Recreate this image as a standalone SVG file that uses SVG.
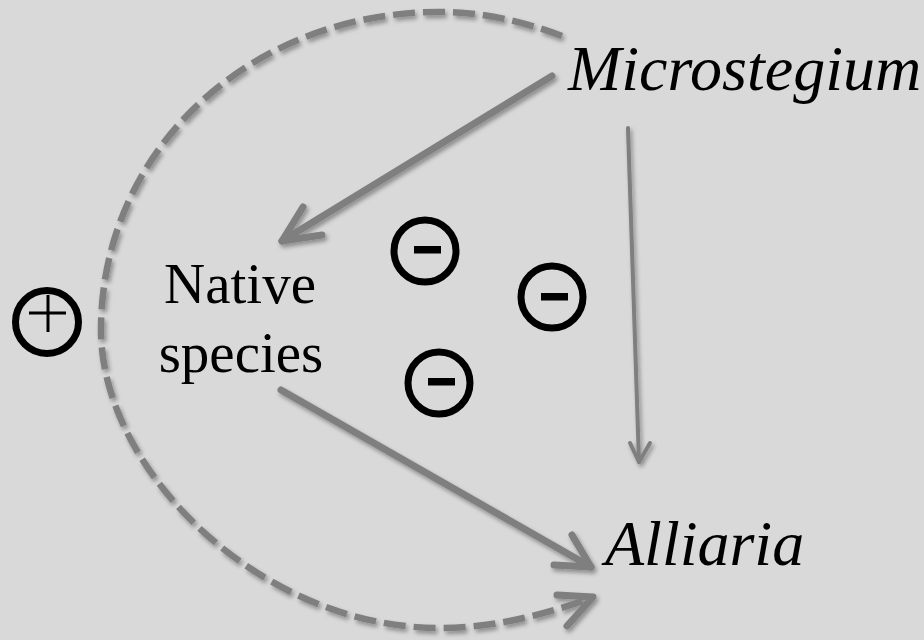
<svg xmlns="http://www.w3.org/2000/svg" width="924" height="640" viewBox="0 0 924 640">
  <defs>
    <filter id="soft" x="-10%" y="-10%" width="120%" height="120%">
      <feDropShadow dx="2" dy="3" stdDeviation="2" flood-color="#000" flood-opacity="0.35"/>
    </filter>
    <style>
      .lbl { font-family: "Liberation Serif", "Times New Roman", serif; fill: #000; }
      .it { font-style: italic; font-size: 64px; }
      .rm { font-size: 57px; }
      .edge { fill: none; stroke: #7f7f7f; stroke-linecap: round; stroke-linejoin: round; }
      .thick { stroke-width: 7; }
      .thin { stroke-width: 4; }
      .dash { stroke-width: 6.5; stroke-dasharray: 22 8; stroke-linecap: butt; }
      .sign { fill: none; stroke: #000; stroke-width: 7; }
    </style>
  </defs>

  <rect width="924" height="640" fill="#d9d9d9"/>

  <!-- connectors -->
  <g id="connectors" filter="url(#soft)">
    <!-- Microstegium to Native species -->
    <path class="edge thick" d="M552 76 L282 241"/>
    <path class="edge thick" d="M303 207 L282 241 L322 235"/>
    <!-- Microstegium to Alliaria -->
    <path class="edge thin" d="M628 128 L639 462"/>
    <path class="edge thin" d="M630 443 L639 462 L650 443"/>
    <!-- Native species to Alliaria -->
    <path class="edge thick" d="M281 390 L591 567"/>
    <path class="edge thick" d="M572 535 L591 567 L554 565"/>
    <!-- Microstegium facilitates Alliaria (dashed loop) -->
    <path class="edge dash" d="M562 36 C520 20 480 12 440 12 C250 12 101 150 101 330 C101 470 260 628 440 628 C500 628 550 612 592 598"/>
    <path class="edge thick" d="M557 595 L593 597 L567 626"/>
  </g>

  <!-- nodes -->
  <g id="microstegium">
    <text class="lbl it" x="568" y="90">Microstegium</text>
  </g>
  <g id="native-species">
    <text class="lbl rm" x="240" y="303" text-anchor="middle">Native</text>
    <text class="lbl rm" x="241" y="372" text-anchor="middle">species</text>
  </g>
  <g id="alliaria">
    <text class="lbl it" x="605" y="565">Alliaria</text>
  </g>

  <!-- interaction signs -->
  <g id="sign-positive">
    <circle class="sign" cx="47" cy="322" r="31.5"/>
    <path d="M29 313 H66 M48 295 V332" stroke="#000" stroke-width="3" fill="none"/>
  </g>
  <g id="sign-negative-1">
    <circle class="sign" cx="425" cy="251" r="31"/>
    <rect x="414" y="246" width="27" height="7.5" fill="#000"/>
  </g>
  <g id="sign-negative-2">
    <circle class="sign" cx="552" cy="297" r="31"/>
    <rect x="541" y="293" width="27" height="7.5" fill="#000"/>
  </g>
  <g id="sign-negative-3">
    <circle class="sign" cx="439" cy="383" r="31"/>
    <rect x="428" y="378" width="27" height="7.5" fill="#000"/>
  </g>
</svg>
